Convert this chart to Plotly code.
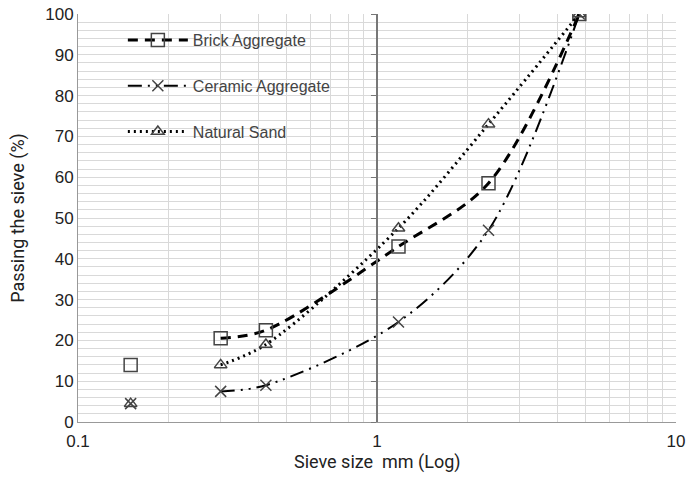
import plotly.graph_objects as go

sieve = [0.15, 0.3, 0.425, 1.18, 2.36, 4.75]
brick = [14, 20.5, 22.5, 43, 58.5, 100]
ceramic = [4.5, 7.5, 9, 24.5, 47, 100]
sand = [4.5, 14, 19, 47.5, 73, 100]

names = ["Brick Aggregate", "Ceramic Aggregate", "Natural Sand"]
series = [brick, ceramic, sand]
dashes = ["10px,7px", "14px,6px,2px,6px,2px,6px", "2px,4px"]
widths = [3, 2, 3]
symbols = ["square-open", "x-thin-open", "triangle-up-open"]
msizes = [13, 11, 11]

FONT = "Liberation Sans, Arial, sans-serif"
TFONT = "Roboto, Liberation Sans, sans-serif"
fig = go.Figure()
for i, (nm, ys) in enumerate(zip(names, series)):
    fig.add_trace(go.Scatter(
        x=sieve[1:], y=ys[1:], mode="lines+markers", name=nm,
        legendgroup=nm,
        line=dict(color="black", width=widths[i], dash=dashes[i], shape="spline", smoothing=0.9),
        marker=dict(symbol=symbols[i], size=msizes[i], color="#444",
                    line=dict(color="#444", width=1.5)),
    ))
    fig.add_trace(go.Scatter(
        x=sieve[:1], y=ys[:1], mode="markers", showlegend=False, legendgroup=nm,
        marker=dict(symbol=symbols[i], size=msizes[i], color="#444",
                    line=dict(color="#444", width=1.5)),
    ))

fig.update_layout(
    width=686, height=493,
    margin=dict(l=78, r=10, t=14, b=71),
    paper_bgcolor="white", plot_bgcolor="white",
    font=dict(family=FONT, color="#222", size=17),
    showlegend=True,
    legend=dict(x=0.075, y=0.978, xanchor="left", yanchor="top",
                bgcolor="rgba(255,255,255,0)", font=dict(size=16, color="#444"),
                traceorder="grouped", tracegroupgap=22, itemwidth=60),
    xaxis=dict(type="log", range=[-1, 1], tickvals=[0.1, 1, 10],
               ticktext=["0.1", "1", "10"], automargin=False, ticklabelstandoff=4,
               showgrid=True, gridcolor="#c8c8c8", gridwidth=1,
               minor=dict(showgrid=True, gridcolor="#d9d9d9", gridwidth=1,
                          tickvals=[0.2, 0.3, 0.4, 0.5, 0.6, 0.7, 0.8, 0.9,
                                    2, 3, 4, 5, 6, 7, 8, 9]),
               showline=True, linecolor="#999", linewidth=1,
               ticks="", zeroline=False,
               tickfont=dict(size=17, color="#222")),
    yaxis=dict(range=[0, 100], dtick=10, showgrid=True, gridcolor="#d9d9d9",
               minor=dict(showgrid=True, gridcolor="#d9d9d9", dtick=2),
               showline=True, linecolor="#999", linewidth=1, ticks="",
               zeroline=False, automargin=False,
               title=dict(text="Passing the sieve (%)", font=dict(family=TFONT, size=18, color="#222")),
               tickfont=dict(size=17, color="#222")),
    yaxis2=dict(overlaying="y", anchor="free", position=0.5, range=[0, 100], dtick=10,
                showgrid=False, showticklabels=False, ticks="outside", ticklen=5,
                tickcolor="#777", showline=True, linecolor="#777", linewidth=1.5,
                zeroline=False, automargin=False),
    annotations=[dict(text="Sieve size  mm (Log)", xref="paper", yref="paper",
                      x=0.5, y=0, yshift=-40, xanchor="center", yanchor="middle",
                      showarrow=False, font=dict(family=TFONT, size=18, color="#222"))],
)
fig.add_trace(go.Scatter(x=[sieve[0]], y=[brick[0]], yaxis="y2", mode="markers",
                         marker=dict(opacity=0), showlegend=False, hoverinfo="skip"))
fig.write_html("out.html")
